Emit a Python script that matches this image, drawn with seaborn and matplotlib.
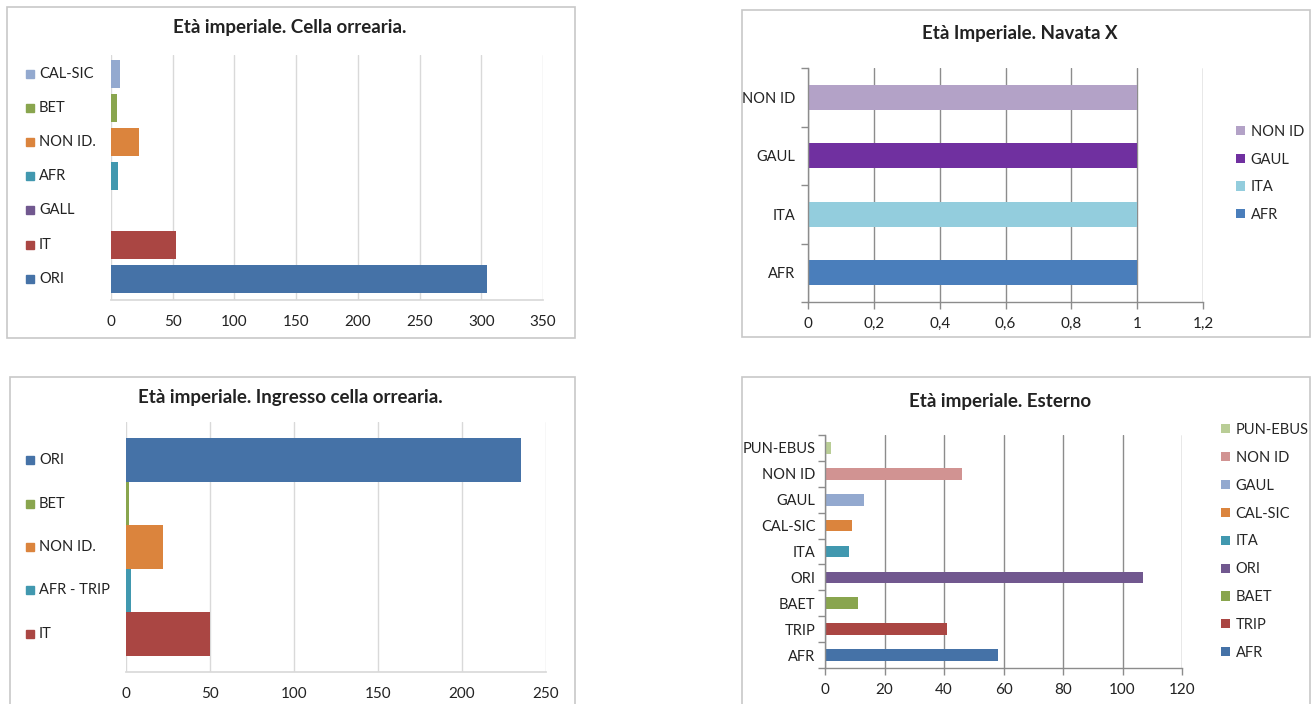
import matplotlib.pyplot as plt
import matplotlib.transforms as mtransforms
from matplotlib.patches import Rectangle, Patch
from matplotlib.ticker import MultipleLocator, FuncFormatter, FixedLocator
import seaborn as sns

# Cella orrearia (categorie dall'alto in basso)
cella_cat = ['CAL-SIC', 'BET', 'NON ID.', 'AFR', 'GALL', 'IT', 'ORI']
cella_val = [7, 5, 23, 6, 0, 53, 305]
cella_col = ['#93A9CF', '#89A54E', '#DB843D', '#4198AF', '#71588F', '#AA4643', '#4572A7']

# Navata X
navata_cat = ['NON ID', 'GAUL', 'ITA', 'AFR']
navata_val = [1, 1, 1, 1]
navata_col = ['#B3A2C7', '#7030A0', '#93CDDD', '#4A7EBB']

# Ingresso cella orrearia
ingresso_cat = ['ORI', 'BET', 'NON ID.', 'AFR - TRIP', 'IT']
ingresso_val = [235, 2, 22, 3, 50]
ingresso_col = ['#4572A7', '#89A54E', '#DB843D', '#4198AF', '#AA4643']

# Esterno
esterno_cat = ['PUN-EBUS', 'NON ID', 'GAUL', 'CAL-SIC', 'ITA', 'ORI', 'BAET', 'TRIP', 'AFR']
esterno_val = [2, 46, 13, 9, 8, 107, 11, 41, 58]
esterno_col = ['#B9CD96', '#D19392', '#93A9CF', '#DB843D', '#4198AF', '#71588F', '#89A54E', '#AA4643', '#4572A7']

sns.set_theme(style='white')
plt.rcParams['font.family'] = ['Lato', 'DejaVu Sans']

W, H = 1313, 704
fig = plt.figure(figsize=(W / 100, H / 100), dpi=100)


def px_axes(x0, x1, y0, y1):
    # posizione in pixel (y dall'alto)
    return fig.add_axes([x0 / W, 1 - y1 / H, (x1 - x0) / W, (y1 - y0) / H])


def frame(x0, x1, y0, y1):
    fig.add_artist(Rectangle((x0 / W, 1 - y1 / H), (x1 - x0) / W, (y1 - y0) / H,
                             transform=fig.transFigure, fill=False,
                             edgecolor='#C8C8C8', linewidth=1.2))


def title(x, y, txt):
    fig.text(x / W, 1 - y / H, txt, ha='center', va='center', fontsize=13.5,
             fontweight='bold', color='#222222')


def bars(ax, cat, val, col, width):
    sns.barplot(x=val, y=cat, hue=cat, palette=dict(zip(cat, col)), orient='h',
                width=width, saturation=1, linewidth=0, legend=False, ax=ax)
    ax.set_xlabel('')
    ax.set_ylabel('')
    ax.set_axisbelow(True)


def light_style(ax, xmax, step, cat, col, text_x, sq_x):
    ax.set_xlim(0, xmax)
    ax.xaxis.set_major_locator(MultipleLocator(step))
    ax.grid(axis='x', color='#D9D9D9', linewidth=1)
    for s in ['top', 'right', 'left']:
        ax.spines[s].set_visible(False)
    ax.spines['bottom'].set_color('#D9D9D9')
    ax.tick_params(axis='x', length=0, pad=11, labelsize=11, colors='#222222')
    ax.set_yticks([])
    tr = mtransforms.blended_transform_factory(fig.transFigure, ax.transData)
    for i, (c, k) in enumerate(zip(cat, col)):
        ax.plot([sq_x / W], [i], marker='s', markersize=5.5, color=k,
                transform=tr, clip_on=False)
        ax.text(text_x / W, i, c, transform=tr, ha='left', va='center',
                fontsize=10.5, color='#222222')


def dark_style(ax, xmax, step, n, fmt=None):
    ax.set_xlim(0, xmax)
    ax.set_ylim(n - 0.5, -0.5)
    ax.xaxis.set_major_locator(MultipleLocator(step))
    if fmt:
        ax.xaxis.set_major_formatter(FuncFormatter(fmt))
    ax.grid(axis='x', color='#8C8C8C', linewidth=1)
    for s in ['top', 'right']:
        ax.spines[s].set_visible(False)
    for s in ['bottom', 'left']:
        ax.spines[s].set_color('#8C8C8C')
        ax.spines[s].set_linewidth(1)
    ax.yaxis.set_minor_locator(FixedLocator([i - 0.5 for i in range(n + 1)]))
    ax.tick_params(axis='y', which='major', length=0, pad=9, labelsize=10.5,
                   colors='#222222')
    ax.tick_params(axis='y', which='minor', left=True, length=5, width=1,
                   color='#8C8C8C', direction='out')
    ax.tick_params(axis='x', bottom=True, length=5, width=1, color='#8C8C8C',
                   direction='out', pad=6, labelsize=11, labelcolor='#222222')


def side_legend(ax, cat, col, x, y, spacing):
    handles = [Patch(facecolor=k, edgecolor='none', label=c) for c, k in zip(cat, col)]
    ax.legend(handles=handles, loc='upper left', bbox_to_anchor=(x / W, 1 - y / H),
              bbox_transform=fig.transFigure, frameon=False, borderpad=0,
              borderaxespad=0, handlelength=0.6, handleheight=0.6,
              handletextpad=0.4, labelspacing=spacing, fontsize=10.5)


# --- Cella orrearia ---
frame(7, 575, 7, 338)
ax1 = px_axes(111, 543, 55, 300)
bars(ax1, cella_cat, cella_val, cella_col, 0.82)
ax1.set_ylim(6.62, -0.55)
light_style(ax1, 350, 50, cella_cat, cella_col, 39, 30)
title(290, 27, 'Età imperiale. Cella orrearia.')

# --- Navata X ---
frame(742, 1310, 10, 337)
ax2 = px_axes(808, 1203, 68, 302)
bars(ax2, navata_cat, navata_val, navata_col, 0.42)
dark_style(ax2, 1.2, 0.2, len(navata_cat),
           fmt=lambda v, p: f'{v:g}'.replace('.', ','))
side_legend(ax2, navata_cat, navata_col, 1236, 125, 0.93)
title(1020, 33, 'Età Imperiale. Navata X')

# --- Ingresso cella orrearia ---
frame(10, 575, 377, 710)
ax3 = px_axes(126, 546, 422, 672)
bars(ax3, ingresso_cat, ingresso_val, ingresso_col, 1.0)
ax3.set_ylim(4.88, -0.88)
light_style(ax3, 250, 50, ingresso_cat, ingresso_col, 39, 30)
title(290, 398, 'Età imperiale. Ingresso cella orrearia.')

# --- Esterno ---
frame(742, 1310, 377, 710)
ax4 = px_axes(825, 1182, 435, 668)
bars(ax4, esterno_cat, esterno_val, esterno_col, 0.45)
dark_style(ax4, 120, 20, len(esterno_cat))
ax4.tick_params(axis='y', which='major', pad=7)
side_legend(ax4, esterno_cat, esterno_col, 1221, 423, 0.95)
title(1000, 401, 'Età imperiale. Esterno')

fig.savefig('out.png', dpi=100, facecolor='white')
